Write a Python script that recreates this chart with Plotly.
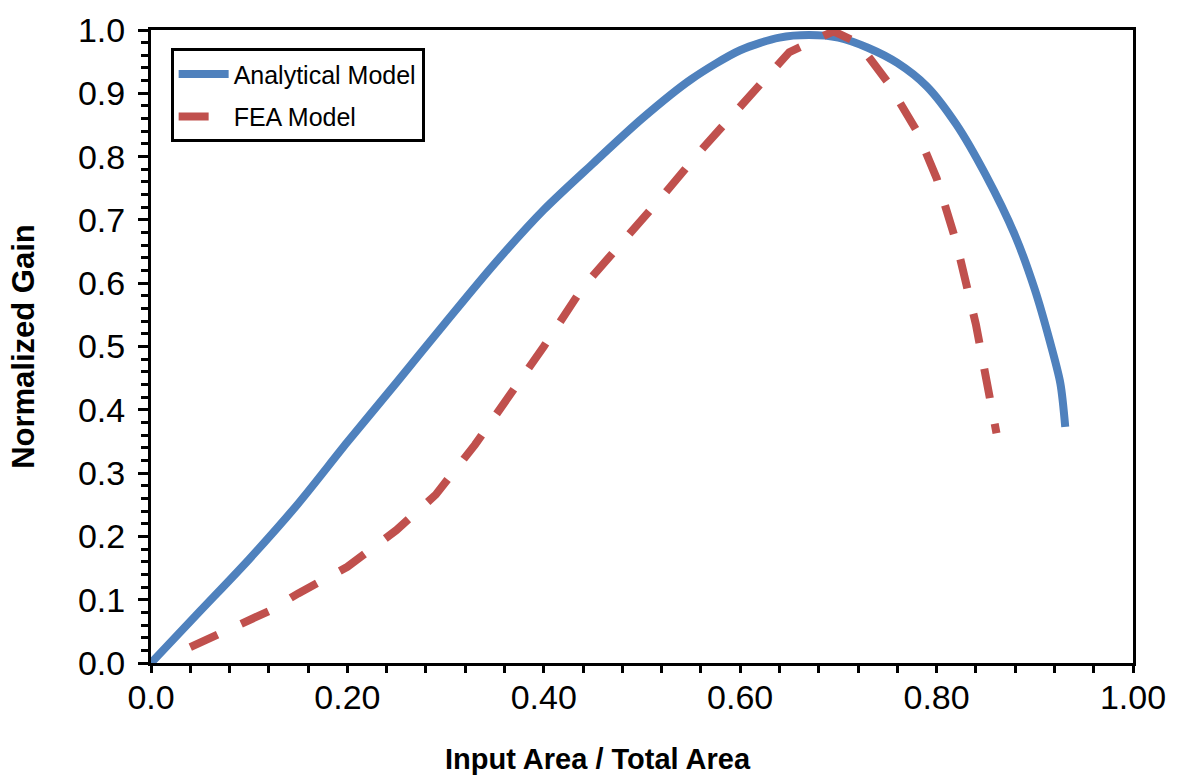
import plotly.graph_objects as go

# Analytical model: normalized gain vs. input-area fraction
analytical_x = [0.0, 0.05, 0.10, 0.15, 0.20, 0.25, 0.30, 0.35, 0.40, 0.45, 0.50,
                0.55, 0.60, 0.64, 0.67, 0.70, 0.73, 0.76, 0.79, 0.82, 0.85, 0.88,
                0.90, 0.915, 0.926, 0.931]
analytical_y = [0.0, 0.082, 0.164, 0.252, 0.349, 0.443, 0.538, 0.631, 0.716, 0.789,
                0.860, 0.922, 0.968, 0.988, 0.992, 0.988, 0.972, 0.948, 0.911, 0.851,
                0.771, 0.675, 0.590, 0.510, 0.442, 0.373]

# FEA model results
fea_x = [0.04, 0.09, 0.12, 0.15, 0.20, 0.25, 0.29, 0.33, 0.37, 0.40, 0.44, 0.48,
         0.52, 0.56, 0.60, 0.65, 0.695, 0.72, 0.75, 0.78, 0.80, 0.82, 0.84, 0.861]
fea_y = [0.025, 0.062, 0.082, 0.110, 0.152, 0.210, 0.266, 0.345, 0.432, 0.500,
         0.594, 0.664, 0.736, 0.810, 0.878, 0.965, 0.998, 0.980, 0.918, 0.840,
         0.766, 0.665, 0.535, 0.363]

x_tick_vals = [0.0, 0.2, 0.4, 0.6, 0.8, 1.0]
x_tick_text = ["0.0", "0.20", "0.40", "0.60", "0.80", "1.00"]

FONT = "Liberation Sans, Arial, sans-serif"

fig = go.Figure()
fig.add_trace(go.Scatter(
    x=analytical_x, y=analytical_y, mode="lines", name="Analytical Model",
    legendgroup="a",
    line=dict(color="#4F81BD", width=8, shape="spline", smoothing=0.8),
))
fig.add_trace(go.Scatter(
    x=fea_x, y=fea_y, mode="lines", name="FEA Model",
    legendgroup="b",
    line=dict(color="#C0504D", width=8, dash="30px,26px"),
))

fig.update_layout(
    width=1179, height=780,
    margin=dict(l=151, r=46, t=30, b=117),
    paper_bgcolor="white", plot_bgcolor="white",
    font=dict(family=FONT, color="black"),
    showlegend=True,
    legend=dict(
        x=0.02, y=0.971, xanchor="left", yanchor="top",
        bordercolor="black", borderwidth=3, bgcolor="white",
        font=dict(size=25, family=FONT, color="black"),
        tracegroupgap=7, itemwidth=50,
    ),
    xaxis=dict(
        range=[0, 1], tickmode="array", tickvals=x_tick_vals, ticktext=x_tick_text,
        ticks="outside", ticklen=7, tickwidth=3, tickcolor="black",
        minor=dict(tickmode="linear", tick0=0, dtick=0.04, ticks="outside",
                   ticklen=7, tickwidth=3, tickcolor="black"),
        showline=True, linewidth=3, linecolor="black", mirror=True,
        showgrid=False, zeroline=False,
        tickfont=dict(size=34, family=FONT), ticklabelstandoff=-5,
    ),
    yaxis=dict(
        range=[0, 1], tickmode="linear", tick0=0, dtick=0.1, tickformat=".1f",
        ticks="outside", ticklen=10, tickwidth=3, tickcolor="black",
        minor=dict(tickmode="linear", tick0=0, dtick=0.02, ticks="outside",
                   ticklen=7, tickwidth=2.5, tickcolor="black"),
        showline=True, linewidth=3, linecolor="black", mirror=True,
        showgrid=False, zeroline=False,
        tickfont=dict(size=34, family=FONT), ticklabelstandoff=6,
    ),
    annotations=[
        dict(text="<b>Input Area / Total Area</b>", xref="paper", yref="paper",
             x=0.455, y=-0.152, xanchor="center", yanchor="middle", showarrow=False,
             font=dict(size=29, family=FONT, color="black")),
        dict(text="<b>Normalized Gain</b>", xref="paper", yref="paper",
             x=-0.13, y=0.5, xanchor="center", yanchor="middle", showarrow=False,
             textangle=-90, font=dict(size=31, family=FONT, color="black")),
    ],
)

fig.write_html("out.html")
